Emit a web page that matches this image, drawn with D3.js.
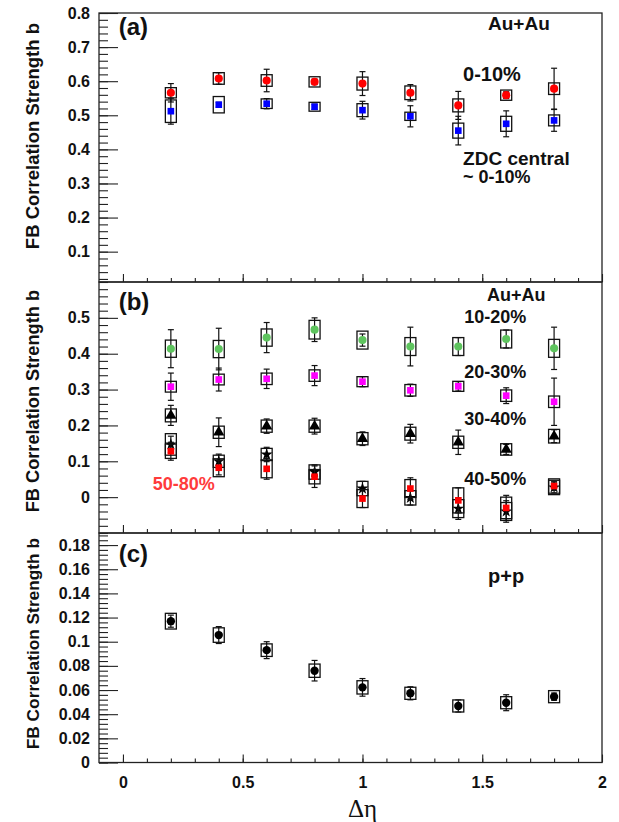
<!DOCTYPE html>
<html>
<head>
<meta charset="utf-8">
<script src="https://cdn.jsdelivr.net/npm/d3@7"></script>
<style>
  body { margin: 0; background: #fff; }
  svg { display: block; }
  text { font-family: "Liberation Sans", Arial, sans-serif; font-weight: bold; }
</style>
</head>
<body>
<svg id="chart"></svg>
<script>
// delta eta bins
var etaGap = [0.2, 0.4, 0.6, 0.8, 1.0, 1.2, 1.4, 1.6, 1.8]

// (a) Au+Au 0-10% and ZDC central
var aCent     = [0.566, 0.608, 0.602, 0.598, 0.593, 0.566, 0.529, 0.559, 0.578]
var aCentStat = [0.027, 0.017, 0.033, 0.008, 0.035, 0.024, 0.041, 0.010, 0.060]
var aCentSys  = [0.015, 0.017, 0.017, 0.015, 0.019, 0.020, 0.019, 0.015, 0.017]
var aZdc      = [0.512, 0.531, 0.534, 0.525, 0.515, 0.497, 0.455, 0.475, 0.485]
var aZdcStat  = [0.038, 0.007, 0.015, 0.008, 0.026, 0.031, 0.042, 0.038, 0.032]
var aZdcSys   = [0.033, 0.024, 0.014, 0.013, 0.019, 0.012, 0.022, 0.022, 0.016]

// (b) Au+Au centrality classes
var b1020     = [0.414, 0.413, 0.445, 0.467, 0.438, 0.420, 0.420, 0.441, 0.415]
var b1020Stat = [0.053, 0.058, 0.042, 0.033, 0.017, 0.054, 0.025, 0.025, 0.059]
var b1020Sys  = [0.024, 0.024, 0.024, 0.026, 0.025, 0.025, 0.025, 0.025, 0.025]
var b2030     = [0.308, 0.328, 0.330, 0.339, 0.322, 0.298, 0.309, 0.283, 0.266]
var b2030Stat = [0.038, 0.032, 0.027, 0.028, 0.014, 0.017, 0.013, 0.022, 0.066]
var b2030Sys  = [0.015, 0.015, 0.016, 0.016, 0.014, 0.016, 0.014, 0.016, 0.016]
var b3040     = [0.228, 0.181, 0.198, 0.198, 0.163, 0.177, 0.153, 0.133, 0.170]
var b3040Stat = [0.028, 0.040, 0.020, 0.022, 0.019, 0.026, 0.034, 0.014, 0.018]
var b3040Sys  = [0.018, 0.017, 0.017, 0.017, 0.017, 0.018, 0.017, 0.016, 0.019]
var b4050     = [0.147, 0.100, 0.119, 0.070, 0.024, -0.002, -0.032, -0.040, 0.027]
var b4050Stat = [0.023, 0.020, 0.020, 0.020, 0.020, 0.020, 0.030, 0.030, 0.015]
var b4050Sys  = [0.030, 0.017, 0.017, 0.020, 0.020, 0.020, 0.025, 0.025, 0.020]
var b5080     = [0.128, 0.082, 0.079, 0.057, -0.004, 0.024, -0.009, -0.030, 0.031]
var b5080Stat = [0.025, 0.020, 0.029, 0.030, 0.025, 0.030, 0.035, 0.035, 0.012]
var b5080Sys  = [0.020, 0.025, 0.025, 0.020, 0.025, 0.025, 0.035, 0.030, 0.020]

// (c) p+p
var cPp     = [0.1170, 0.1055, 0.0930, 0.0760, 0.0622, 0.0573, 0.0468, 0.0495, 0.0545]
var cPpStat = [0.0050, 0.0070, 0.0070, 0.0085, 0.0073, 0.0054, 0.0050, 0.0066, 0.0030]
var cPpSys  = [0.0065, 0.0060, 0.0052, 0.0055, 0.0055, 0.0050, 0.0050, 0.0050, 0.0050]

// tick labels
var xTickLabels = ["0", "0.5", "1", "1.5", "2"]
var aTickLabels = ["0.1", "0.2", "0.3", "0.4", "0.5", "0.6", "0.7", "0.8"]
var bTickLabels = ["0", "0.1", "0.2", "0.3", "0.4", "0.5"]
var cTickLabels = ["0", "0.02", "0.04", "0.06", "0.08", "0.1", "0.12", "0.14", "0.16", "0.18"]

var screen = {width: 619, height: 822}
var frame = {left: 99, right: 602}

var svg = d3.select("#chart")
    .attr("width", screen.width)
    .attr("height", screen.height)

var xScale = d3.scaleLinear()
    .domain([-0.1, 2])
    .range([frame.left, frame.right])

var panels = [
    {
        top: 13, bottom: 282, domain: [0.011, 0.8], minor: 0.02, labels: aTickLabels,
        titleSize: 18.5, titleEnd: 23,
        series: [
            {v: aCent, stat: aCentStat, sys: aCentSys, shape: d3.symbolCircle, size: 52, color: "#ff0000"},
            {v: aZdc, stat: aZdcStat, sys: aZdcSys, shape: d3.symbolSquare, size: 44, color: "#0000ff"}
        ],
        notes: [
            {t: "(a)", x: -0.018, y: 0.736, size: 24},
            {t: "Au+Au", x: 1.524, y: 0.750, size: 19},
            {t: "0-10%", x: 1.42, y: 0.602, size: 20},
            {t: "ZDC central", x: 1.42, y: 0.354, size: 19},
            {t: "~ 0-10%", x: 1.42, y: 0.300, size: 18}
        ]
    },
    {
        top: 282, bottom: 533, domain: [-0.1, 0.6], minor: 0.02, labels: bTickLabels,
        titleSize: 18.2, titleEnd: 290,
        series: [
            {v: b1020, stat: b1020Stat, sys: b1020Sys, shape: d3.symbolCircle, size: 52, color: "#5ec45e"},
            {v: b2030, stat: b2030Stat, sys: b2030Sys, shape: d3.symbolSquare, size: 44, color: "#ff00ff"},
            {v: b3040, stat: b3040Stat, sys: b3040Sys, shape: d3.symbolTriangle, size: 55, color: "#000"},
            {v: b4050, stat: b4050Stat, sys: b4050Sys, shape: d3.symbolStar, size: 45, color: "#000"},
            {v: b5080, stat: b5080Stat, sys: b5080Sys, shape: d3.symbolSquare, size: 44, color: "#ff0000"}
        ],
        notes: [
            {t: "(b)", x: -0.018, y: 0.522, size: 24},
            {t: "Au+Au", x: 1.52, y: 0.548, size: 18},
            {t: "10-20%", x: 1.425, y: 0.487, size: 18},
            {t: "20-30%", x: 1.425, y: 0.333, size: 18},
            {t: "30-40%", x: 1.425, y: 0.202, size: 18},
            {t: "40-50%", x: 1.425, y: 0.034, size: 18},
            {t: "50-80%", x: 0.124, y: 0.021, size: 18, color: "#ff3b3b"}
        ]
    },
    {
        top: 533, bottom: 762.5, domain: [0, 0.19], minor: 0.004, labels: cTickLabels,
        titleSize: 17.3, titleEnd: 538,
        series: [
            {v: cPp, stat: cPpStat, sys: cPpSys, shape: d3.symbolCircle, size: 55, color: "#000"}
        ],
        notes: [
            {t: "(c)", x: -0.018, y: 0.166, size: 24},
            {t: "p+p", x: 1.524, y: 0.149, size: 20}
        ]
    }
]

var drawPanel = function(p, isLast)
{
    var yScale = d3.scaleLinear()
        .domain(p.domain)
        .range([p.bottom, p.top])

    var g = svg.append("g")

    // minor ticks, y
    var minorY = d3.range(Math.ceil(p.domain[0] / p.minor - 1e-6), Math.floor(p.domain[1] / p.minor + 1e-6) + 1)
        .map(function(i) { return +(i * p.minor).toFixed(4) })
    g.append("g")
        .attr("transform", "translate(" + frame.left + ",0)")
        .call(d3.axisLeft(yScale).tickValues(minorY).tickSize(-9).tickFormat(""))
        .call(function(s) { s.select(".domain").remove() })

    // major ticks, y
    var majorY = p.labels.map(Number)
    var yAxis = g.append("g")
        .attr("transform", "translate(" + frame.left + ",0)")
        .call(d3.axisLeft(yScale).tickValues(majorY).tickSize(-19).tickPadding(9)
            .tickFormat(function(d, i) { return p.labels[i] }))
    yAxis.select(".domain").remove()
    yAxis.selectAll("text").attr("font-size", 16).attr("fill", "#111")

    // x ticks along bottom of every panel
    var minorX = d3.range(0, 20).map(function(i) { return +(i * 0.1).toFixed(1) })
    g.append("g")
        .attr("transform", "translate(0," + p.bottom + ")")
        .call(d3.axisBottom(xScale).tickValues(minorX).tickSize(-4).tickFormat(""))
        .call(function(s) { s.select(".domain").remove() })

    var xAxis = g.append("g")
        .attr("transform", "translate(0," + p.bottom + ")")
        .call(d3.axisBottom(xScale).tickValues(xTickLabels.map(Number)).tickSize(-8).tickPadding(14)
            .tickFormat(function(d, i) { return isLast ? xTickLabels[i] : "" }))
    xAxis.select(".domain").remove()
    xAxis.selectAll("text").attr("font-size", 16).attr("fill", "#111")

    g.selectAll(".tick line").attr("stroke", "#222").attr("stroke-width", 1.1)

    // frame
    g.append("rect")
        .attr("x", frame.left)
        .attr("y", p.top)
        .attr("width", frame.right - frame.left)
        .attr("height", p.bottom - p.top)
        .attr("fill", "none")
        .attr("stroke", "#222")
        .attr("stroke-width", 1.3)

    // y title
    g.append("text")
        .attr("transform", "translate(39," + p.titleEnd + ") rotate(-90)")
        .attr("text-anchor", "end")
        .attr("font-size", p.titleSize)
        .attr("fill", "#111")
        .text("FB Correlation Strength b")

    // data: sys boxes, stat bars, markers
    p.series.forEach(function(s)
    {
        var pts = etaGap.map(function(x, i) { return {x: x, v: s.v[i], stat: s.stat[i], sys: s.sys[i]} })

        g.append("g").selectAll("rect")
            .data(pts)
            .enter()
            .append("rect")
            .attr("x", function(d) { return xScale(d.x) - 5.5 })
            .attr("y", function(d) { return yScale(d.v + d.sys) })
            .attr("width", 11)
            .attr("height", function(d) { return yScale(d.v - d.sys) - yScale(d.v + d.sys) })
            .attr("fill", "none")
            .attr("stroke", "#111")
            .attr("stroke-width", 1.3)

        var bars = g.append("g").selectAll("g")
            .data(pts)
            .enter()
            .append("g")
            .attr("stroke", "#111")
            .attr("stroke-width", 1.2)
        bars.append("line")
            .attr("x1", function(d) { return xScale(d.x) })
            .attr("x2", function(d) { return xScale(d.x) })
            .attr("y1", function(d) { return yScale(d.v - d.stat) })
            .attr("y2", function(d) { return yScale(d.v + d.stat) })
        bars.append("line")
            .attr("x1", function(d) { return xScale(d.x) - 3 })
            .attr("x2", function(d) { return xScale(d.x) + 3 })
            .attr("y1", function(d) { return yScale(d.v + d.stat) })
            .attr("y2", function(d) { return yScale(d.v + d.stat) })
        bars.append("line")
            .attr("x1", function(d) { return xScale(d.x) - 3 })
            .attr("x2", function(d) { return xScale(d.x) + 3 })
            .attr("y1", function(d) { return yScale(d.v - d.stat) })
            .attr("y2", function(d) { return yScale(d.v - d.stat) })

        g.append("g").selectAll("path")
            .data(pts)
            .enter()
            .append("path")
            .attr("d", d3.symbol().type(s.shape).size(s.size))
            .attr("transform", function(d) { return "translate(" + xScale(d.x) + "," + yScale(d.v) + ")" })
            .attr("fill", s.color)
    })

    // annotations
    g.selectAll(".note")
        .data(p.notes)
        .enter()
        .append("text")
        .attr("class", "note")
        .attr("x", function(d) { return xScale(d.x) })
        .attr("y", function(d) { return yScale(d.y) })
        .attr("font-size", function(d) { return d.size })
        .attr("fill", function(d) { return d.color || "#111" })
        .text(function(d) { return d.t })
}

panels.forEach(function(p, i) { drawPanel(p, i == panels.length - 1) })

// x title (serif, not bold)
svg.append("text")
    .attr("x", xScale(1.0))
    .attr("y", 817)
    .attr("text-anchor", "middle")
    .style("font-family", "'Liberation Serif', 'Times New Roman', serif")
    .style("font-weight", "normal")
    .attr("font-size", 25)
    .attr("fill", "#111")
    .text("Δη")
</script>
</body>
</html>
